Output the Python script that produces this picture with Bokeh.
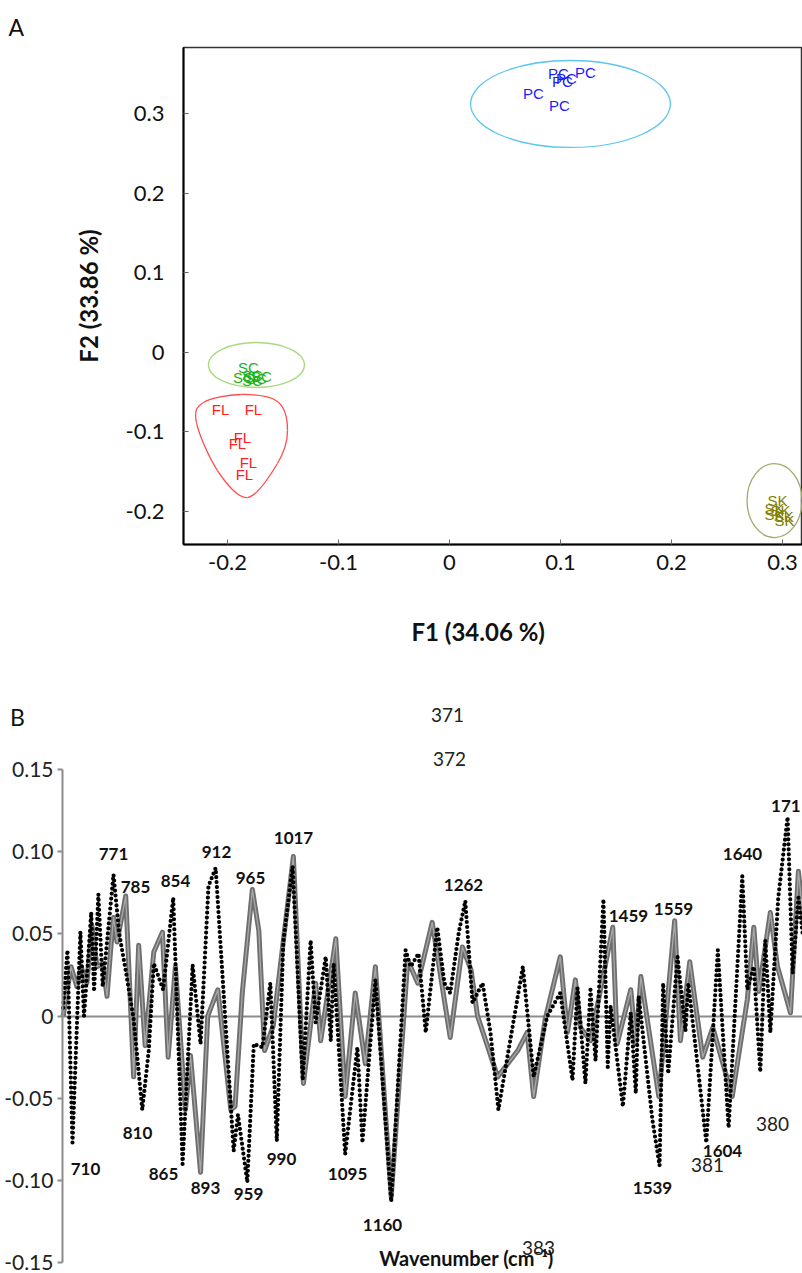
import numpy as np
from bokeh.plotting import figure
from bokeh.models import FixedTicker, Range1d, Title
from bokeh.embed import file_html
from bokeh.resources import INLINE
from bokeh.core.properties import value

# ---------------- Panel A : PCA scores ----------------
pc_x = [0.0757, 0.0991, 0.1225, 0.0982, 0.1018, 0.1054]
pc_y = [0.3256, 0.3105, 0.3520, 0.3508, 0.3407, 0.3445]
sc_x = [-0.1811, -0.1856, -0.1775, -0.1739, -0.1694, -0.1775]
sc_y = [-0.0193, -0.0318, -0.0293, -0.0331, -0.0306, -0.0356]
fl_x = [-0.2063, -0.1766, -0.1865, -0.1910, -0.1811, -0.1847]
fl_y = [-0.0722, -0.0722, -0.1074, -0.1150, -0.1389, -0.1539]
sk_x = [0.2955, 0.2928, 0.2982, 0.2928, 0.3011, 0.3018]
sk_y = [-0.1867, -0.1967, -0.1992, -0.2042, -0.2068, -0.2118]

# confidence ellipses (centre, width, height)
ell_cx = [0.109, -0.1739, 0.2928]
ell_cy = [0.3124, -0.0161, -0.1867]
ell_w = [0.180, 0.0865, 0.0495]
ell_h = [0.1095, 0.0566, 0.0931]
ell_col = ["#5cc6ef", "#a9d97f", "#a3ab6a"]

# FL group outline (closed smooth curve through these points)
fl_hull_x = [-0.1883, -0.1550, -0.1459, -0.1550, -0.1820, -0.2090, -0.2279, -0.2216]
fl_hull_y = [-0.0532, -0.0620, -0.0985, -0.1401, -0.1829, -0.1489, -0.0885, -0.0632]

a_ticks = [-0.2, -0.1, 0.0, 0.1, 0.2, 0.3]
a_tick_labels = ["-0.2", "-0.1", "0", "0.1", "0.2", "0.3"]

# ---------------- Panel B : spectra ----------------
wn_dot = [697, 703, 710, 721, 726, 731, 736, 740, 746, 752, 758, 767, 775, 785, 795, 807, 816, 823, 836, 850, 863, 877,
          888, 899, 909, 934, 940, 953, 962, 974, 985, 994, 1003, 1016, 1030, 1041, 1048, 1062, 1069, 1073, 1089, 1106,
          1113, 1131, 1153, 1173, 1180, 1191, 1201, 1217, 1227, 1235, 1247, 1256, 1266, 1280, 1291, 1302, 1336, 1351, 1370, 1388, 1405, 1412,
          1423, 1430, 1437, 1448, 1454, 1458, 1475, 1486, 1493, 1497, 1516, 1526, 1531, 1538, 1551, 1562, 1566, 1591, 1607, 1622,
          1641, 1648, 1657, 1666, 1673, 1680, 1691, 1704, 1711, 1719, 1725]
val_dot = [0.005, 0.040, -0.077, 0.051, 0.000, 0.030, 0.063, 0.015, 0.074, 0.018, 0.045, 0.086, 0.050, 0.025, -0.002, -0.057, -0.021, 0.032, 0.016, 0.072, -0.090, 0.031,
           -0.017, 0.079, 0.090, -0.082, -0.060, -0.101, -0.017, -0.019, 0.020, -0.076, 0.045, 0.091, -0.039, 0.046, -0.004, 0.036, -0.015, 0.032, -0.084, -0.019,
           -0.077, 0.022, -0.113, 0.040, 0.030, 0.038, -0.010, 0.054, 0.020, 0.014, 0.051, 0.070, 0.008, 0.020, -0.010, -0.057, 0.030, -0.037, 0.000, 0.014, -0.039, 0.017,
           -0.041, 0.016, -0.027, 0.071, -0.031, 0.006, -0.055, 0.002, -0.047, 0.012, -0.063, -0.091, 0.020, -0.035, 0.036, -0.009, 0.020, -0.077, 0.040, -0.068,
           0.085, 0.016, 0.030, -0.034, 0.046, -0.010, 0.072, 0.121, 0.026, 0.072, 0.050]

wn_gray = [697, 708, 716, 722, 730, 737, 744, 752, 758, 763, 767, 772, 784, 795, 802, 811, 823, 835, 843, 853,
           867, 874, 888, 898, 912, 930, 936, 946, 960, 969, 977, 989, 1017, 1031, 1048, 1055, 1076, 1089, 1103, 1117,
           1131, 1153, 1176, 1190, 1210, 1235, 1252, 1264, 1273, 1301, 1329, 1342, 1351, 1367, 1388, 1398, 1409, 1416, 1430, 1461, 1467,
           1486, 1493, 1500, 1525, 1547, 1555, 1568, 1586, 1600, 1627, 1648, 1657, 1664, 1680, 1690, 1708, 1719, 1728]
val_gray = [0.000, 0.030, 0.018, 0.030, 0.020, 0.055, 0.030, 0.032, 0.012, 0.040, 0.060, 0.045, 0.073, -0.037, 0.043, -0.018, 0.039, 0.051, -0.025, 0.030,
            -0.057, -0.024, -0.095, 0.000, 0.016, -0.057, -0.055, 0.014, 0.077, 0.052, -0.021, -0.006, 0.097, -0.041, 0.020, -0.015, 0.047, -0.049, 0.014, -0.029,
            0.030, -0.110, 0.034, 0.020, 0.057, -0.013, 0.042, 0.028, 0.000, -0.037, -0.021, -0.010, -0.049, -0.002, 0.036, -0.010, 0.022, -0.007, -0.015, 0.054, -0.017,
            0.016, -0.017, 0.024, -0.049, 0.058, -0.015, 0.033, -0.025, -0.007, -0.049, 0.010, 0.054, 0.015, 0.063, 0.030, 0.002, 0.088, 0.050]

peak_text = ["710", "771", "785", "810", "854", "865", "893", "912", "959", "965", "990", "1017", "1095", "1160",
             "1262", "1459", "1539", "1559", "1604", "1640", "171"]
peak_wn = [728.1, 767.0, 797.6, 800.4, 853.2, 836.5, 894.9, 910.2, 954.6, 957.4, 1000.5, 1017.2, 1092.3, 1140.9,
           1253.5, 1482.8, 1516.2, 1545.4, 1613.5, 1641.3, 1701.5]
peak_val = [-0.0928, 0.0988, 0.0782, -0.0709, 0.0824, -0.0958, -0.1043, 0.0995, -0.1080, 0.0842, -0.0867, 0.1080, -0.0958, -0.1268,
            0.0794, 0.0611, -0.1049, 0.0654, -0.0818, 0.0988, 0.128]

stray_text = ["371", "372", "380", "381", "383"]
stray_wn = [1231.3, 1234.0, 1683.0, 1592.7, 1357.7]
stray_val = [0.1828, 0.1566, -0.0654, -0.0909, -0.1408]

b_ticks = [-0.15, -0.10, -0.05, 0.0, 0.05, 0.10, 0.15]
b_tick_labels = ["-0.15", "-0.10", "-0.05", "0", "0.05", "0.10", "0.15"]
b_axis_wn = 696.1        # wavenumber where the value axis is drawn
b_right_wn = 1724.7      # last wavenumber visible at right edge

assert len(wn_dot) == len(val_dot) and len(wn_gray) == len(val_gray)

FONT = value("Lato")

# ---------------- figure A ----------------
pA = figure(width=802, height=690, x_range=Range1d(-0.2396, 0.3180), y_range=Range1d(-0.2420, 0.3835),
            output_backend="svg", toolbar_location=None, title="A",
            min_border_left=183, min_border_right=0, min_border_top=47, min_border_bottom=146)
pA.title.align = "left"
pA.title.offset = -175
pA.title.text_font = "Lato"
pA.title.text_font_size = "23px"
pA.title.text_font_style = "normal"
pA.title.text_color = "#111111"
pA.title.standoff = 14
pA.grid.visible = False
pA.outline_line_color = "#333333"
pA.outline_line_width = 1.5

pA.xaxis.ticker = FixedTicker(ticks=a_ticks)
pA.yaxis.ticker = FixedTicker(ticks=a_ticks)
pA.xaxis.major_label_overrides = dict(zip(a_ticks, a_tick_labels))
pA.yaxis.major_label_overrides = dict(zip(a_ticks, a_tick_labels))
for ax in (pA.xaxis[0], pA.yaxis[0]):
    ax.axis_line_color = "black"
    ax.axis_line_width = 2
    ax.major_tick_in = 5
    ax.major_tick_out = 0
    ax.minor_tick_line_color = None
    ax.major_tick_line_color = "#666666"
    ax.major_label_text_font = "Lato"
    ax.major_label_text_font_size = "22px"
    ax.major_label_text_color = "#111111"
    ax.axis_label_text_font = "Lato"
    ax.axis_label_text_font_style = "bold"
    ax.axis_label_text_font_size = "24px"
    ax.axis_label_text_color = "#111111"
pA.yaxis.axis_label = "F2 (33.86 %)"
pA.xaxis.major_label_standoff = 10
pA.yaxis.major_label_standoff = 19
pA.yaxis.axis_label_standoff = 20
pA.add_layout(Title(text="F1 (34.06 %)", align="left", offset=228, text_font="Lato",
                    text_font_size="24px", text_font_style="bold", text_color="#111111",
                    standoff=84), "below")

pA.ellipse(x=ell_cx, y=ell_cy, width=ell_w, height=ell_h, fill_color=None,
           line_color=ell_col, line_width=1.3)

hx = np.array(fl_hull_x); hy = np.array(fl_hull_y)
p1x, p1y = np.roll(hx, -1), np.roll(hy, -1)
pmx, pmy = np.roll(hx, 1), np.roll(hy, 1)
p2x, p2y = np.roll(hx, -2), np.roll(hy, -2)
pA.bezier(x0=hx, y0=hy, x1=p1x, y1=p1y,
          cx0=hx + (p1x - pmx) / 6, cy0=hy + (p1y - pmy) / 6,
          cx1=p1x - (p2x - hx) / 6, cy1=p1y - (p2y - hy) / 6,
          line_color="#ff4d4d", line_width=1.3)

for xs, ys, lab, col in ((pc_x, pc_y, "PC", "#1c1cf5"), (sc_x, sc_y, "SC", "#19b319"),
                         (fl_x, fl_y, "FL", "#ff2020"), (sk_x, sk_y, "SK", "#7f7f00")):
    pA.text(x=xs, y=ys, text=[lab] * len(xs), text_color=col, text_font=value("Liberation Sans"),
            text_font_size=value("15px"), text_align="center", text_baseline="middle")

# ---------------- figure B ----------------
x_left = b_axis_wn - 62 * 1.39   # frame spans the full width; axis drawn at b_axis_wn
pB = figure(width=802, height=583, x_range=Range1d(x_left, b_right_wn), y_range=Range1d(-0.1566, 0.1980),
            output_backend="svg", toolbar_location=None,
            min_border_left=0, min_border_right=0, min_border_top=0, min_border_bottom=0)
pB.grid.visible = False
pB.outline_line_color = None

xb = pB.xaxis[0]
xb.fixed_location = 0
xb.bounds = (b_axis_wn, b_right_wn)
xb.axis_line_color = "#8c8c8c"
xb.axis_line_width = 2
xb.major_tick_line_color = None
xb.minor_tick_line_color = None
xb.major_label_text_color = None
xb.level = "underlay"

yb = pB.yaxis[0]
yb.fixed_location = b_axis_wn
yb.ticker = FixedTicker(ticks=b_ticks)
yb.major_label_overrides = dict(zip(b_ticks, b_tick_labels))
yb.bounds = (-0.15, 0.15)
yb.axis_line_color = "#8c8c8c"
yb.axis_line_width = 2
yb.major_tick_line_color = "#8c8c8c"
yb.major_tick_line_width = 2
yb.major_tick_in = 0
yb.major_tick_out = 5
yb.minor_tick_line_color = None
yb.major_label_standoff = 4
yb.major_label_text_font = "Lato"
yb.major_label_text_font_size = "21px"
yb.major_label_text_color = "#222222"

pB.line(wn_gray, val_gray, line_color="#6e6e6e", line_width=5, line_join="round")
pB.line(wn_gray, val_gray, line_color="#a8a8a8", line_width=1.3, line_join="round")
pB.line(wn_dot, val_dot, line_color="black", line_width=4.2, line_dash="0 5", line_cap="round", line_join="round")

pB.text(x=stray_wn, y=stray_val, text=stray_text, text_font=FONT, text_font_size=value("19px"),
        text_color="#222222", text_align="center", text_baseline="middle")
pB.text(x=peak_wn, y=peak_val, text=peak_text, text_font=FONT, text_font_size=value("17px"),
        text_font_style="bold", text_color="#111111", text_align="center", text_baseline="middle")
pB.text(x=[1257.7], y=[-0.1469], text=["Wavenumber (cm\u207b\u00b9)"], text_font=FONT,
        text_font_size=value("20px"), text_font_style="bold", text_color="#111111",
        text_align="center", text_baseline="middle")
pB.text(x=[x_left + 17 * 1.39], y=[0.1816], text=["B"], text_font=FONT, text_font_size=value("23px"),
        text_color="#111111", text_align="center", text_baseline="middle")

open("out.html", "w").write(file_html([pA, pB], INLINE))
